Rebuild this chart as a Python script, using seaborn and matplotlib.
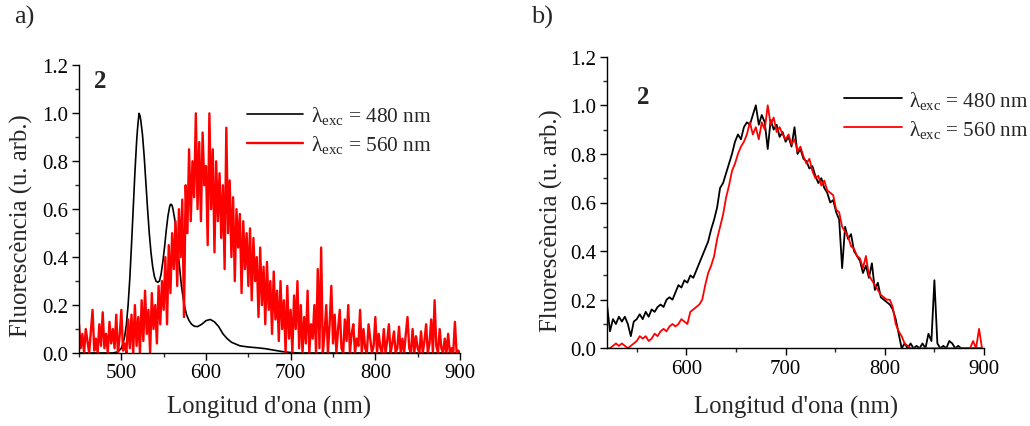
import numpy as np
import matplotlib
matplotlib.use("Agg")
import matplotlib.pyplot as plt
import seaborn as sns
from matplotlib.ticker import MultipleLocator

# ---------------- data ----------------
# Panel a) : excitation 480 nm (smooth) and 560 nm (noisy)
a_black_x = [450, 490, 496, 500, 502, 504, 506, 508, 510, 512, 514, 516, 518, 519, 520, 521,
             522, 523, 525, 527, 529, 531, 533, 535, 537, 539, 541, 543, 545, 547, 549, 551,
             553, 555, 557, 558, 559, 560, 561, 563, 565, 567, 569, 571, 573, 575, 577, 580,
             583, 586, 590, 595, 600, 605, 610, 615, 620, 625, 630, 640, 650, 660, 670, 680,
             690, 700, 710, 900]
a_black_y = [0.0, 0.0, 0.005, 0.02, 0.04, 0.07, 0.12, 0.20, 0.31, 0.45, 0.60, 0.75, 0.88, 0.93, 0.97, 1.00,
             0.99, 0.97, 0.91, 0.82, 0.71, 0.60, 0.50, 0.42, 0.36, 0.32, 0.30, 0.295, 0.30, 0.33, 0.38, 0.44,
             0.51, 0.57, 0.61, 0.62, 0.62, 0.615, 0.60, 0.56, 0.50, 0.42, 0.35, 0.28, 0.23, 0.19, 0.16, 0.135,
             0.12, 0.112, 0.11, 0.12, 0.135, 0.14, 0.13, 0.11, 0.08, 0.06, 0.045, 0.03, 0.025, 0.022, 0.018, 0.012,
             0.006, 0.002, 0.0, 0.0]

a_red_x = np.arange(450, 901, 2)
a_red_y = [
    0.12, 0.02, 0.08, 0.00, 0.10, 0.05, 0.00, 0.09, 0.18, 0.01,   # 450-468
    0.06, 0.00, 0.12, 0.03, 0.17, 0.02, 0.08, 0.00, 0.13, 0.04,   # 470-488
    0.10, 0.02, 0.16, 0.00, 0.07, 0.18, 0.01, 0.04, 0.00, 0.14,   # 490-508
    0.02, 0.16, 0.00, 0.20, 0.03, 0.15, 0.00, 0.22, 0.05, 0.26,   # 510-528
    0.08, 0.18, 0.00, 0.25, 0.10, 0.20, 0.04, 0.28, 0.12, 0.30,   # 530-548
    0.18, 0.40, 0.12, 0.45, 0.25, 0.50, 0.35, 0.55, 0.28, 0.60,   # 550-568
    0.40, 0.64, 0.15, 0.70, 0.50, 0.85, 0.55, 0.80, 0.65, 1.00,   # 570-588
    0.60, 0.88, 0.55, 0.92, 0.70, 0.78, 0.45, 1.00, 0.60, 0.85,   # 590-608
    0.42, 0.80, 0.55, 0.75, 0.48, 0.70, 0.35, 0.94, 0.50, 0.72,   # 610-628
    0.40, 0.65, 0.30, 0.60, 0.44, 0.58, 0.25, 0.55, 0.35, 0.50,   # 630-648
    0.28, 0.52, 0.22, 0.48, 0.30, 0.40, 0.15, 0.44, 0.20, 0.36,   # 650-668
    0.12, 0.38, 0.18, 0.30, 0.08, 0.34, 0.14, 0.26, 0.05, 0.30,   # 670-688
    0.10, 0.22, 0.00, 0.28, 0.06, 0.18, 0.00, 0.24, 0.10, 0.30,   # 690-708
    0.02, 0.20, 0.00, 0.15, 0.04, 0.26, 0.00, 0.12, 0.06, 0.20,   # 710-728
    0.00, 0.35, 0.02, 0.44, 0.00, 0.08, 0.20, 0.00, 0.12, 0.28,   # 730-748
    0.04, 0.16, 0.00, 0.10, 0.18, 0.02, 0.00, 0.14, 0.05, 0.20,   # 750-768
    0.00, 0.08, 0.12, 0.00, 0.06, 0.03, 0.18, 0.00, 0.10, 0.02,   # 770-788
    0.00, 0.12, 0.06, 0.00, 0.03, 0.15, 0.00, 0.08, 0.02, 0.00,   # 790-808
    0.10, 0.00, 0.05, 0.12, 0.00, 0.04, 0.09, 0.00, 0.02, 0.11,   # 810-828
    0.00, 0.06, 0.00, 0.08, 0.15, 0.02, 0.00, 0.10, 0.00, 0.07,   # 830-848
    0.02, 0.00, 0.09, 0.00, 0.05, 0.12, 0.00, 0.04, 0.14, 0.00,   # 850-868
    0.22, 0.03, 0.00, 0.10, 0.02, 0.00, 0.06, 0.00, 0.08, 0.00,   # 870-888
    0.02, 0.00, 0.13, 0.00, 0.01, 0.00,                           # 890-900
]

# Panel b)
b_x = np.arange(520, 899, 3)
b_black_y = [
    0.18, 0.07, 0.12, 0.10, 0.13, 0.11, 0.13, 0.10, 0.05, 0.11,   # 520-547
    0.12, 0.14, 0.12, 0.15, 0.13, 0.16, 0.15, 0.17, 0.18, 0.17,   # 550-577
    0.20, 0.21, 0.20, 0.23, 0.26, 0.25, 0.28, 0.27, 0.30, 0.29,   # 580-607
    0.32, 0.35, 0.38, 0.41, 0.44, 0.49, 0.53, 0.58, 0.66, 0.68,   # 610-637
    0.72, 0.76, 0.80, 0.85, 0.88, 0.86, 0.91, 0.93, 0.92, 0.96,   # 640-667
    1.00, 0.92, 0.96, 0.93, 0.82, 0.94, 0.90, 0.92, 0.87, 0.89,   # 670-697
    0.85, 0.87, 0.83, 0.91, 0.80, 0.82, 0.78, 0.77, 0.74, 0.75,   # 700-727
    0.71, 0.68, 0.70, 0.66, 0.64, 0.60, 0.61, 0.56, 0.53, 0.33,   # 730-757
    0.50, 0.45, 0.47, 0.40, 0.38, 0.36, 0.31, 0.34, 0.29, 0.35,   # 760-787
    0.24, 0.27, 0.21, 0.20, 0.19, 0.18, 0.16, 0.12, 0.06, 0.00,   # 790-817
    0.02, 0.00, 0.02, 0.00, 0.01, 0.00, 0.02, 0.00, 0.06, 0.03,   # 820-847
    0.28, 0.02, 0.00, 0.01, 0.00, 0.03, 0.02, 0.00, 0.01, 0.00,   # 850-877
    0.00, 0.00, 0.00, 0.00, 0.00, 0.00, 0.00,                     # 880-898
]
b_red_y = [
    0.00, 0.00, 0.01, 0.02, 0.01, 0.02, 0.01, 0.00, 0.01, 0.02,   # 520-547
    0.03, 0.05, 0.04, 0.05, 0.03, 0.04, 0.06, 0.05, 0.07, 0.08,   # 550-577
    0.07, 0.09, 0.10, 0.09, 0.10, 0.12, 0.11, 0.10, 0.15, 0.16,   # 580-607
    0.17, 0.18, 0.20, 0.26, 0.31, 0.34, 0.38, 0.45, 0.50, 0.55,   # 610-637
    0.62, 0.67, 0.73, 0.76, 0.80, 0.83, 0.85, 0.88, 0.93, 0.88,   # 640-667
    0.91, 0.86, 0.93, 0.90, 1.00, 0.92, 0.95, 0.89, 0.91, 0.88,   # 670-697
    0.86, 0.88, 0.84, 0.86, 0.81, 0.83, 0.79, 0.76, 0.78, 0.73,   # 700-727
    0.70, 0.71, 0.67, 0.69, 0.65, 0.64, 0.63, 0.57, 0.56, 0.50,   # 730-757
    0.48, 0.46, 0.42, 0.41, 0.38, 0.37, 0.33, 0.38, 0.30, 0.28,   # 760-787
    0.26, 0.24, 0.22, 0.21, 0.20, 0.20, 0.17, 0.10, 0.07, 0.05,   # 790-817
    0.02, 0.01, 0.00, 0.00, 0.00, 0.00, 0.00, 0.00, 0.00, 0.00,   # 820-847
    0.00, 0.00, 0.00, 0.00, 0.00, 0.00, 0.00, 0.00, 0.00, 0.00,   # 850-877
    0.00, 0.00, 0.00, 0.03, 0.00, 0.08, 0.00,                     # 880-898
]

labels = [r"λ$_{\mathrm{exc}}$ = 480 nm", r"λ$_{\mathrm{exc}}$ = 560 nm"]
xlabel = "Longitud d'ona (nm)"
ylabel = "Fluorescència (u. arb.)"

# ---------------- style ----------------
sns.set_style("ticks")
plt.rcParams["font.family"] = ["Liberation Serif", "DejaVu Serif"]
plt.rcParams["mathtext.fontset"] = "custom"
plt.rcParams["mathtext.rm"] = "Liberation Serif"
plt.rcParams["mathtext.it"] = "Liberation Serif:italic"
plt.rcParams["mathtext.bf"] = "Liberation Serif:bold"

fig = plt.figure(figsize=(10.3, 4.27), dpi=100)
axa = fig.add_axes([79/1030, 1-354/427, 381/1030, 287.6/427])
axb = fig.add_axes([607/1030, 1-349.3/427, 377/1030, 291.6/427])

sns.lineplot(x=a_black_x, y=a_black_y, ax=axa, color="black", lw=1.2, label=labels[0])
sns.lineplot(x=a_red_x, y=a_red_y, ax=axa, color="#ff0000", lw=1.7, label=labels[1])
sns.lineplot(x=b_x, y=b_black_y, ax=axb, color="black", lw=1.3, label=labels[0])
sns.lineplot(x=b_x, y=b_red_y, ax=axb, color="#ff0000", lw=1.3, label=labels[1])

axa.set_xlim(450, 900)
axb.set_xlim(520, 900)
for ax in (axa, axb):
    ax.set_ylim(0, 1.2)
    ax.xaxis.set_major_locator(MultipleLocator(100))
    ax.xaxis.set_minor_locator(MultipleLocator(50))
    ax.yaxis.set_major_locator(MultipleLocator(0.2))
    ax.yaxis.set_minor_locator(MultipleLocator(0.1))
    ax.yaxis.set_major_formatter(matplotlib.ticker.FormatStrFormatter("%.1f"))
    ax.tick_params(which="major", direction="out", length=5, width=1, labelsize=15,
                   colors="black", pad=2.5)
    ax.tick_params(which="minor", direction="out", length=3, width=1)
    for s in ("top", "right"):
        ax.spines[s].set_visible(False)
    for s in ("left", "bottom"):
        ax.spines[s].set_linewidth(1)
        ax.spines[s].set_color("black")
    ax.set_xlabel(xlabel, fontsize=17.8)
    ax.set_ylabel(ylabel, fontsize=17.8)

axa.xaxis.set_label_coords(0.499, -0.145)
axb.xaxis.set_label_coords(0.501, -0.16)
axa.yaxis.set_label_coords(-0.12, 0.445)
axb.yaxis.set_label_coords(-0.117, 0.44)

axa.legend(loc="upper left", bbox_to_anchor=(0.441, 0.865), frameon=False, fontsize=15.4,
           handlelength=2.6, handletextpad=0.4, labelspacing=0.32, borderpad=0, borderaxespad=0)
axb.legend(loc="upper left", bbox_to_anchor=(0.629, 0.89), frameon=False, fontsize=15.2,
           handlelength=2.75, handletextpad=0.3, labelspacing=0.32, borderpad=0, borderaxespad=0)

axa.text(474.9, 1.135, "2", fontsize=18, fontweight="bold", ha="center", va="center")
axb.text(556.3, 1.035, "2", fontsize=18, fontweight="bold", ha="center", va="center")

fig.text(14/1030, 1-6/427, "a)", fontsize=19, ha="left", va="top")
fig.text(531/1030, 1-6/427, "b)", fontsize=19, ha="left", va="top")

fig.savefig("out.png", dpi=100)
